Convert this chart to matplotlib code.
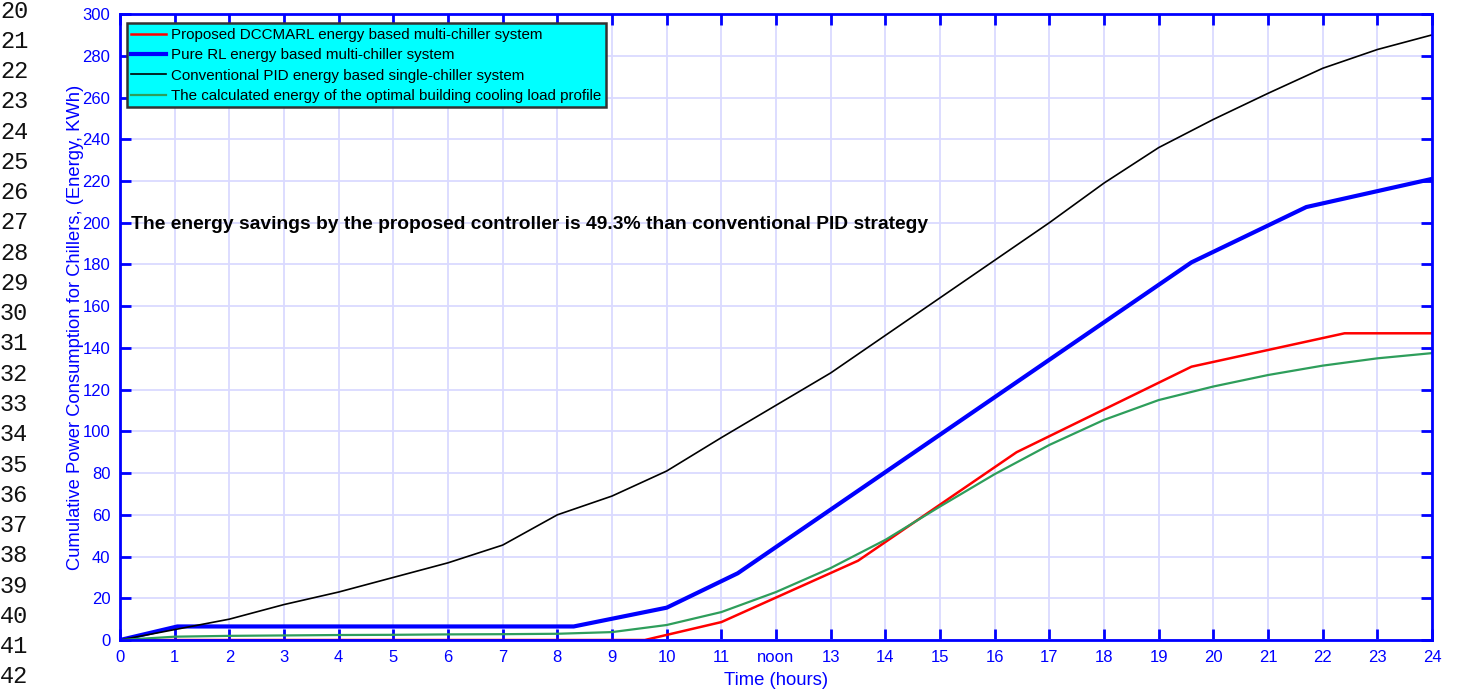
import numpy as np
import matplotlib.pyplot as plt

plt.rcParams['font.family'] = ['Liberation Sans', 'DejaVu Sans']

# cumulative chiller energy (kWh) against time of day (hours)
hours = list(range(25))
pid_energy = [0, 5, 10, 17, 23, 30, 37, 45.5, 60, 69, 81, 97, 112.5, 128, 146,
              164, 182, 200, 219, 236, 249.5, 262, 274, 283, 290]
opt_energy = [0, 1.6, 2.0, 2.2, 2.4, 2.5, 2.7, 2.8, 3.0, 3.8, 7.2, 13.4, 23,
              34.5, 48, 64, 79.5, 93.5, 105.5, 115, 121.5, 127, 131.5, 135, 137.5]

# piecewise profiles of the two learning controllers
rl_hours = [0, 1.05, 8.3, 10.0, 11.3, 19.6, 21.7, 24]
rl_energy = [0, 6.5, 6.5, 15.5, 32, 181, 207.5, 221]
dcc_hours = [0, 9.6, 11.0, 13.5, 16.4, 19.6, 22.4, 24]
dcc_energy = [0, 0, 8.6, 38, 90, 131, 147, 147]

xtick_labels = [str(h) if h != 12 else 'noon' for h in hours]
doc_line_numbers = list(range(20, 43))

blue = (0, 0, 1)
fig = plt.figure(figsize=(14.58, 6.95), dpi=100)
ax = fig.add_axes([0.0823, 0.0791, 0.8999, 0.9007])

ax.plot(dcc_hours, dcc_energy, color='red', lw=1.8,
        label='Proposed DCCMARL energy based multi-chiller system')
ax.plot(rl_hours, rl_energy, color=blue, lw=3,
        label='Pure RL energy based multi-chiller system')
ax.plot(hours, pid_energy, color='black', lw=1.2,
        label='Conventional PID energy based single-chiller system')
ax.plot(hours, opt_energy, color='#2e9e5b', lw=1.6,
        label='The calculated energy of the optimal building cooling load profile')

ax.set_xlim(0, 24)
ax.set_ylim(0, 300)
ax.set_xticks(hours)
ax.set_xticklabels(xtick_labels)
ax.set_yticks(np.arange(0, 301, 20))
ax.grid(True, color='#dadaff', lw=1.3)
ax.set_axisbelow(True)
for sp in ax.spines.values():
    sp.set_color(blue)
    sp.set_linewidth(2)
ax.tick_params(direction='in', length=8, width=2, color=blue, labelcolor=blue,
               labelsize=12, top=True, right=True, pad=7)

ax.set_xlabel('Time (hours)', color=blue, fontsize=13.3, labelpad=5)
ax.set_ylabel('Cumulative Power Consumption for Chillers, (Energy, KWh)',
              color=blue, fontsize=13.2, labelpad=-1)

ax.text(0.2, 199, 'The energy savings by the proposed controller is 49.3% than conventional PID strategy',
        fontsize=13.85, fontweight='bold', va='center', ha='left')

leg = ax.legend(loc='upper left', bbox_to_anchor=(0.003, 0.99), fontsize=10.9,
                frameon=True, fancybox=False, framealpha=1, borderaxespad=0.2,
                handlelength=2.3, handletextpad=0.3, borderpad=0.3, labelspacing=0.42)
leg.get_frame().set_facecolor('cyan')
leg.get_frame().set_edgecolor('#333333')
leg.get_frame().set_linewidth(1.8)

# line numbering of the surrounding page
for i, n in enumerate(doc_line_numbers):
    fig.text(0.0, 1 - (11 + i * 30.27) / 695, str(n), fontsize=17,
             family='Liberation Mono', va='center', ha='left', color='#111111')

fig.savefig('out.png', dpi=100)
